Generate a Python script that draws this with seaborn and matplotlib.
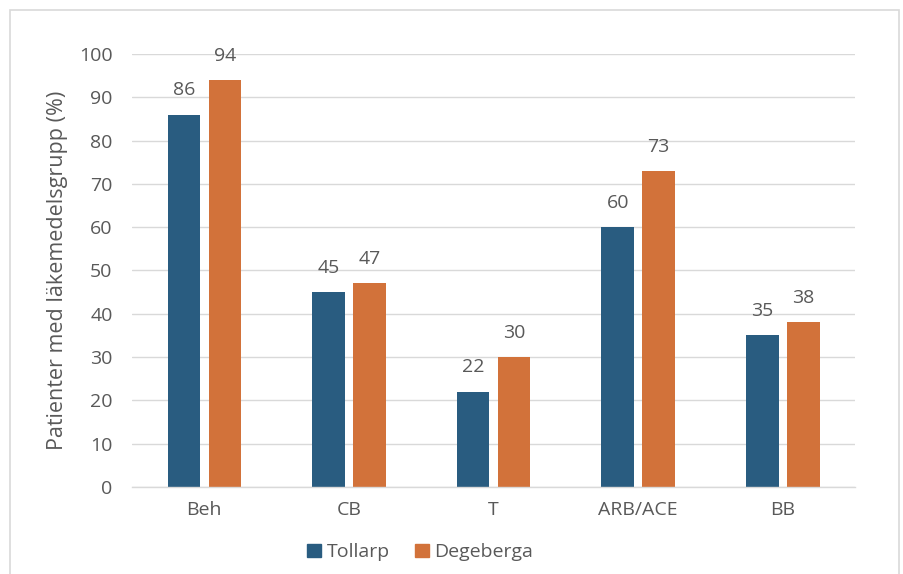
import matplotlib
matplotlib.use("Agg")
import matplotlib.pyplot as plt
import matplotlib.patches as mpatches
import seaborn as sns
import pandas as pd

categories = ["Beh", "CB", "T", "ARB/ACE", "BB"]
tollarp = [86, 45, 22, 60, 35]
degeberga = [94, 47, 30, 73, 38]
series_names = ["Tollarp", "Degeberga"]
y_ticks = [0, 10, 20, 30, 40, 50, 60, 70, 80, 90, 100]
y_label = "Patienter med läkemedelsgrupp (%)"

df = pd.DataFrame({
    "Kategori": categories * 2,
    "Värde": tollarp + degeberga,
    "Grupp": [series_names[0]] * len(categories) + [series_names[1]] * len(categories),
})

sns.set_theme(style="white")
plt.rcParams["font.family"] = ["Open Sans", "DejaVu Sans"]
text_color = "#595959"
palette = {"Tollarp": "#295C80", "Degeberga": "#D2723A"}

fig = plt.figure(figsize=(9.04, 5.74), dpi=100)
ax = fig.add_axes([0.146, 0.1516, 0.80, 0.7544])

sns.barplot(data=df, x="Kategori", y="Värde", hue="Grupp", order=categories,
            hue_order=series_names, palette=palette, width=0.567, gap=0.207,
            saturation=1, linewidth=0, ax=ax, legend=False)

ax.set_ylim(0, 100)
ax.set_xlim(-0.5, len(categories) - 0.5)
ax.set_yticks(y_ticks)
ax.yaxis.grid(True, color="#d9d9d9", linewidth=1)
ax.set_axisbelow(True)
for s in ["top", "right", "left"]:
    ax.spines[s].set_visible(False)
ax.spines["bottom"].set_color("#d9d9d9")
ax.spines["bottom"].set_linewidth(1)
ax.tick_params(axis="both", length=0, labelsize=14, colors=text_color)
ax.tick_params(axis="y", pad=14)
ax.tick_params(axis="x", pad=10)
ax.set_xlabel("")
ax.set_ylabel(y_label, fontsize=15.5, color=text_color, labelpad=8)

for cont in ax.containers:
    ax.bar_label(cont, fmt="%d", padding=11, fontsize=14, color=text_color)

handles = [mpatches.Patch(color=palette[n], label=n) for n in series_names]
fig.legend(handles=handles, loc="center", bbox_to_anchor=(0.465, 0.038), ncol=2,
           frameon=False, fontsize=14, handlelength=0.7, handleheight=0.7,
           handletextpad=0.3, columnspacing=1.3, labelcolor=text_color)

border = mpatches.Rectangle((10 / 904, -0.02), 889 / 904, 1 - 10 / 574 + 0.02,
                            transform=fig.transFigure, fill=False,
                            edgecolor="#d9d9d9", linewidth=1.2)
fig.patches.append(border)

fig.savefig("out.png", dpi=100)
